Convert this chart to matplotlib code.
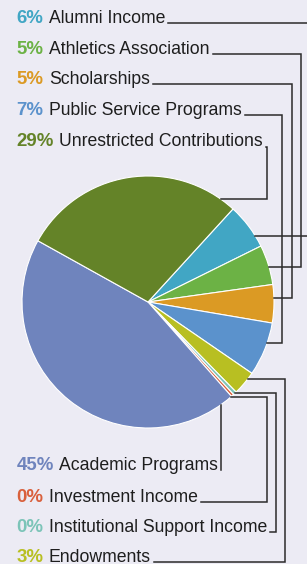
import matplotlib.pyplot as plt
import numpy as np

# pie order, clockwise from the top-right
names = ["Alumni Income", "Athletics Association", "Scholarships",
         "Public Service Programs", "Endowments", "Institutional Support Income",
         "Investment Income", "Academic Programs", "Unrestricted Contributions"]
values = [5.9, 5.1, 4.9, 6.9, 3.1, 0.45, 0.35, 44.6, 28.7]
colors = ["#41a6c4", "#6cb245", "#db9a24", "#5b92cc", "#b8bf22",
          "#7cc4b8", "#d9603c", "#6f84bd", "#648328"]

# label layout (pixels from top): name, baseline y, elbow x, y where the line meets the pie
layout = [
    ("Alumni Income", 22.7, 312, 236),
    ("Athletics Association", 53.5, 301, 267),
    ("Scholarships", 84, 292, 298),
    ("Public Service Programs", 115, 282, 343),
    ("Unrestricted Contributions", 146.5, 267, 199),
    ("Academic Programs", 470, 220, None),
    ("Investment Income", 501.5, 267, 397),
    ("Institutional Support Income", 532, 276, 393),
    ("Endowments", 562, 285, 379),
]

W, H = 307, 564
bg = "#ecebf4"
cx, cy, R = 148, 302, 126

fig = plt.figure(figsize=(W/100, H/100), dpi=100, facecolor=bg)
ax = fig.add_axes([0, 0, 1, 1])
ax.set_facecolor(bg)

def Y(y):
    return H - y

ax.pie(values, colors=colors, startangle=47.6, counterclock=False,
       center=(cx, Y(cy)), radius=R, frame=True,
       wedgeprops=dict(edgecolor="white", linewidth=0.8))
ax.set_xlim(0, W)
ax.set_ylim(0, H)
ax.axis("off")

font = "Liberation Sans"
fig.canvas.draw()
r = fig.canvas.get_renderer()
lc = "#2b2b2b"
for name, base, ex, wy in layout:
    i = names.index(name)
    pct = round(values[i])
    t1 = ax.text(16.5, Y(base), f"{pct}%", color=colors[i],
                 fontsize=13.4, fontweight="bold", family=font, va="baseline")
    x1 = t1.get_window_extent(r).x1
    t2 = ax.text(x1 + 5.5, Y(base), name, color="#1e1e1e", fontsize=12.7,
                 family=font, va="baseline")
    x2 = t2.get_window_extent(r).x1 + 3
    ex = max(ex, x2)
    if wy is None:
        wy = cy + np.sqrt(R**2 - (ex - cx)**2)
        xs = [ex, ex]
        ys = [base, wy]
    else:
        px = cx + np.sqrt(R**2 - (wy - cy)**2)
        xs = [x2, ex, ex, px]
        ys = [base, base, wy, wy]
    ax.plot(xs, [Y(v) for v in ys], color=lc, lw=1.1, solid_joinstyle="miter")

fig.savefig("out.png", dpi=100, facecolor=bg)
